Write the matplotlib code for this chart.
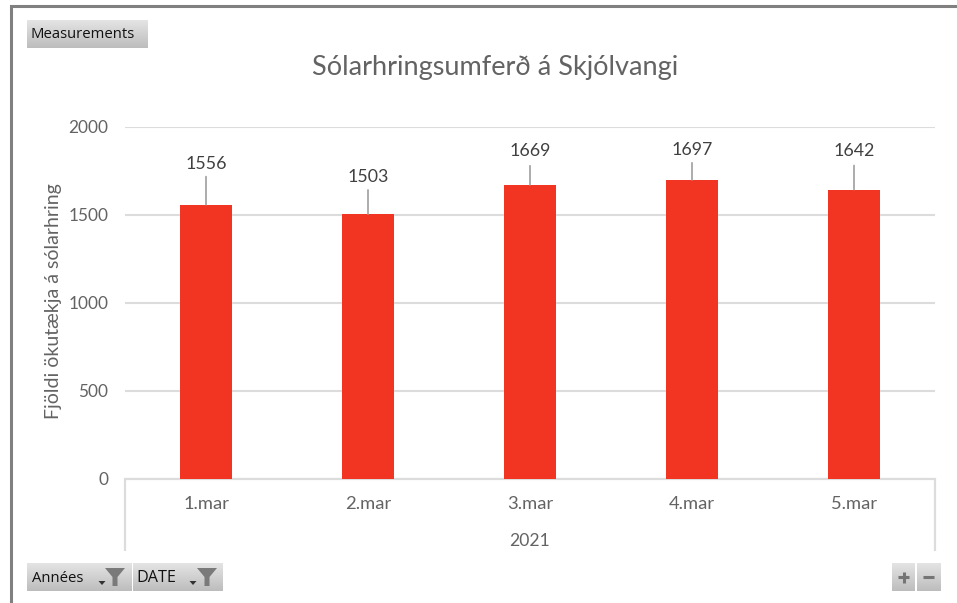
import numpy as np
import matplotlib
matplotlib.use("Agg")
import matplotlib.pyplot as plt
from matplotlib.patches import Polygon

# Data
categories = ["1.mar", "2.mar", "3.mar", "4.mar", "5.mar"]
values = [1556, 1503, 1669, 1697, 1642]
y_ticks = [0, 500, 1000, 1500, 2000]
year_label = "2021"
title = "Sólarhringsumferð á Skjólvangi"
y_label = "Fjöldi ökutækja á sólarhring"

W, H = 957, 603
plt.rcParams["font.family"] = ["Lato", "DejaVu Sans"]
fig = plt.figure(figsize=(W / 100, H / 100), dpi=100, facecolor="white")

# Pixel-space overlay for the frame, pivot buttons and category brackets
ov = fig.add_axes([0, 0, 1, 1], zorder=0)
ov.set_xlim(0, W)
ov.set_ylim(H, 0)
ov.axis("off")

GRID = "#dcdcdc"
TXT = "#636363"
L, R, T, B = 125, 935, 126.5, 478.5

# Outer frame
ov.plot([10.5, 10.5, W], [H, 6, 6], color="#808080", lw=2.2, solid_capstyle="butt", solid_joinstyle="miter")

# Bracket of multi-level category axis
ov.plot([L, L, R, R], [551, 479, 479, 551], color=GRID, lw=1.6, solid_joinstyle="miter", solid_capstyle="butt")

grad = np.linspace(0, 1, 64).reshape(-1, 1)
cmap = matplotlib.colors.LinearSegmentedColormap.from_list("btn", ["#e4e4e4", "#bdbdbd"])


def button(x0, x1, y0, y1):
    ov.imshow(grad, extent=[x0, x1, y1, y0], cmap=cmap, aspect="auto", zorder=1, interpolation="bilinear")


def funnel(cx):
    ov.add_patch(Polygon(
        [(cx - 10, 568), (cx + 10, 568), (cx + 2.5, 577), (cx + 2.5, 586), (cx - 2.5, 586), (cx - 2.5, 577)],
        closed=True, fc="#7a7a7a", ec="none", zorder=2))


def arrow(cx):
    ov.add_patch(Polygon([(cx - 3.5, 581), (cx + 3.5, 581), (cx, 585)], closed=True, fc="#333333", ec="none", zorder=2))


button(27, 148, 20, 48)
button(27, 132, 563, 591)
button(133, 223, 563, 591)
button(892, 915, 563, 591)
button(917, 941, 563, 591)
ov.set_xlim(0, W)
ov.set_ylim(H, 0)

btn_font = dict(fontsize=10.7, color="#111111", va="center", zorder=3, family=["Open Sans", "DejaVu Sans"])
ov.text(31, 34.5, "Measurements", **btn_font)
ov.text(32, 578, "Années", **btn_font)
ov.text(136, 578, "DATE", **{**btn_font, "fontsize": 11.6})
arrow(102)
funnel(115)
arrow(193)
funnel(207)
ov.plot([898, 909], [577, 577], color="#757575", lw=2.2, zorder=3, solid_capstyle="butt")
ov.plot([903.5, 903.5], [571.5, 582.5], color="#757575", lw=2.2, zorder=3, solid_capstyle="butt")
ov.plot([923, 934], [577, 577], color="#757575", lw=2.2, zorder=3, solid_capstyle="butt")

# Main chart
ax = fig.add_axes([L / W, 1 - B / H, (R - L) / W, (B - T) / H], zorder=2)
ax.patch.set_alpha(0)
x = np.arange(len(categories))
ax.bar(x, values, width=0.315, color="#f23522", zorder=3)
ax.set_xlim(-0.5, len(categories) - 0.5)
ax.set_ylim(0, 2000)
ax.set_yticks(y_ticks)
ax.set_xticks(x)
ax.set_xticklabels(categories)
ax.tick_params(axis="y", length=0, labelsize=12.4, labelcolor=TXT, pad=12)
ax.tick_params(axis="x", length=0, labelsize=13.2, labelcolor=TXT, pad=12.5)
ax.grid(axis="y", color=GRID, lw=1.5, zorder=0)
ax.set_axisbelow(True)
for s in ax.spines.values():
    s.set_visible(False)

# Data labels with leader lines (offsets in pixels above each bar)
leader_px = [28, 24, 19, 17, 24]
label_px = [41, 37, 34, 30, 39]
for xi, v, lp, tp in zip(x, values, leader_px, label_px):
    ax.annotate("", xy=(xi, v), xytext=(0, lp * 0.72), textcoords="offset points",
                xycoords="data", arrowprops=dict(arrowstyle="-", color="#a6a6a6", lw=1.3, shrinkA=0, shrinkB=0), zorder=4)
    ax.annotate(str(v), xy=(xi, v), xytext=(0, tp * 0.72), textcoords="offset points",
                ha="center", va="center", fontsize=12.8, color="#404040", zorder=5)

ov.text(495.5, 67, title, fontsize=19.5, color=TXT, ha="center", va="center", zorder=3)
ov.text(530, 540.5, year_label, fontsize=12.6, color=TXT, ha="center", va="center", zorder=3)
ov.text(53.5, 301, y_label, fontsize=14, color=TXT, rotation=90, ha="center", va="center", zorder=3)

fig.savefig("out.png", dpi=100)
